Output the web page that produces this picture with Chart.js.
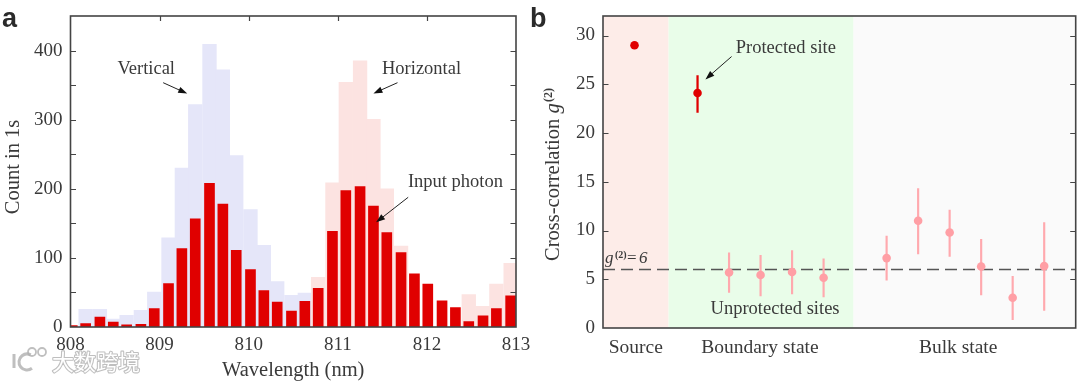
<!DOCTYPE html>
<html><head><meta charset="utf-8">
<style>html,body{margin:0;padding:0;background:#fff;width:1080px;height:383px;overflow:hidden}
canvas{position:absolute;top:0}#ca{left:0}#cb{left:530px}</style>
<script src="https://cdn.jsdelivr.net/npm/chart.js@4"></script></head>
<body><canvas id="ca" width="530" height="383"></canvas><canvas id="cb" width="550" height="383"></canvas>
<script>
const wavelengths=[808.02,808.17,808.33,808.48,808.63,808.79,808.94,809.10,809.25,809.40,809.56,809.71,809.86,810.02,810.17,810.32,810.48,810.63,810.78,810.94,811.09,811.25,811.40,811.55,811.71,811.86,812.01,812.17,812.32,812.47,812.63,812.78,812.94];
const inputPhoton=[2,5,14.5,7,3,4,26.5,63,113.5,156.5,208,178,111,83,52.6,36,23,37,56,138.6,197.5,203,175,136.6,107.7,77,62,37.7,28,8,16,26.5,45];
const vertical=[null,25.6,25.6,11.6,17,24,50.7,129,230,322,409,372,248,170,118,65.7,46,49,null,null,null,null,null,null,null,null,null,null,null,null,null,null,null];
const horizontal=[null,null,null,null,null,null,null,null,null,null,null,null,null,null,null,null,null,null,72,208.7,354,385,300.5,200,117,null,null,null,null,47,30,62,92];
const sourceSite=[0],sourceG2=[29.0];
const protectedSite=[2],protectedG2=[24.1],protectedLow=[22.1],protectedHigh=[25.9];
const unprotectedSites=[3,4,5,6,8,9,10,11,12,13];
const unprotectedG2=[5.7,5.43,5.74,5.16,7.17,11,9.8,6.3,3.1,6.35];
const unprotectedLow=[3.65,3.3,3.5,3.18,4.9,7.6,7.35,3.4,0.85,1.8];
const unprotectedHigh=[7.7,7.45,7.93,7.1,9.43,14.3,12.1,9.1,5.3,10.8];
const threshold=6;
const regionLabels=['Source','Boundary state','Bulk state'];
const regionCenters=[0.04,3.98,10.27];
const regionEdges=[-1,1.08,6.95,14];
const regionColors=['#fdece8','#e9fde9','#fafafa'];

const INK='#3a3a3a',SERIF='"Liberation Serif",serif',FS=19;
Chart.defaults.font.family=SERIF;Chart.defaults.font.size=FS;Chart.defaults.color=INK;
const pts=(xs,ys)=>xs.map((x,i)=>({x,y:ys[i]}));
const noPad=s=>{s.paddingLeft=s.paddingRight=s.paddingTop=s.paddingBottom=0;};

function frame(opts){return {id:'frame',afterDatasetsDraw(ch){
  const {ctx,chartArea:a,scales:{x,y}}=ch;ctx.save();ctx.strokeStyle='#444';ctx.lineWidth=1.2;
  ctx.beginPath();
  y.ticks.forEach(t=>{const p=Math.round(y.getPixelForValue(t.value))+.5;
    if(t.value<=y.min||t.value>=y.max)return;
    if(opts.left){ctx.moveTo(a.left,p);ctx.lineTo(a.left+5.5,p);}
    ctx.moveTo(a.right,p);ctx.lineTo(a.right-5.5,p);});
  if(opts.top)x.ticks.forEach(t=>{if(t.value<=x.min||t.value>=x.max)return;const p=Math.round(x.getPixelForValue(t.value))+.5;ctx.moveTo(p,a.top);ctx.lineTo(p,a.top+5);});
  ctx.stroke();
  ctx.lineWidth=1.6;ctx.strokeStyle='#444';ctx.strokeRect(a.left,a.top,a.right-a.left,a.bottom-a.top);
  ctx.restore();}};}
function arrow(ctx,x0,y0,x1,y1){const an=Math.atan2(y1-y0,x1-x0),L=9,W=3.2;
  ctx.strokeStyle='#222';ctx.fillStyle='#111';ctx.lineWidth=1;
  ctx.beginPath();ctx.moveTo(x0,y0);ctx.lineTo(x1-Math.cos(an)*L*.8,y1-Math.sin(an)*L*.8);ctx.stroke();
  ctx.beginPath();ctx.moveTo(x1,y1);
  ctx.lineTo(x1-L*Math.cos(an)+W*Math.sin(an),y1-L*Math.sin(an)-W*Math.cos(an));
  ctx.lineTo(x1-L*Math.cos(an)-W*Math.sin(an),y1-L*Math.sin(an)+W*Math.cos(an));ctx.closePath();ctx.fill();}
function notes(texts,arrows,extra){return {id:'notes',afterDraw(ch){
  const {ctx,scales:{x,y}}=ch;ctx.save();ctx.textAlign='center';ctx.textBaseline='middle';
  ctx.font='18.5px '+SERIF;ctx.fillStyle=INK;
  texts.forEach(t=>ctx.fillText(t[0],x.getPixelForValue(t[1]),y.getPixelForValue(t[2])));
  arrows.forEach(r=>arrow(ctx,x.getPixelForValue(r[0]),y.getPixelForValue(r[1]),x.getPixelForValue(r[2]),y.getPixelForValue(r[3])));
  if(extra)extra(ctx,ch);ctx.restore();}};}
function panelLetter(c,s,px){c.save();c.font='bold 27px "Liberation Sans",sans-serif';c.fillStyle='#2a2a2a';c.textAlign='left';c.textBaseline='alphabetic';c.fillText(s,px,27);c.restore();}
function watermark(c){c.save();
  c.font='22px "Noto Sans CJK SC"';c.textAlign='left';c.textBaseline='middle';
  c.strokeStyle='rgba(175,175,175,.8)';c.lineWidth=2.2;c.lineJoin='round';
  c.strokeText('大数跨境',52,362);c.fillStyle='#fff';c.fillText('大数跨境',52,362);
  c.lineWidth=3;c.beginPath();c.moveTo(14,354);c.lineTo(14,368);c.stroke();
  c.beginPath();c.arc(27,362,8,0.9,5.2);c.stroke();
  c.lineWidth=1.8;c.beginPath();c.arc(32,352,4,0,6.3);c.stroke();c.beginPath();c.arc(42,352,4,0,6.3);c.stroke();
  c.restore();}

new Chart(document.getElementById('ca'),{type:'bar',
 data:{datasets:[
  {label:'Input photon',data:pts(wavelengths,inputPhoton),backgroundColor:'#e00000',barThickness:10,grouped:false,order:1},
  {label:'Horizontal',data:pts(wavelengths,horizontal),backgroundColor:'#fce3e1',barThickness:13.67,grouped:false,order:2},
  {label:'Vertical',data:pts(wavelengths,vertical),backgroundColor:'#e5e6f9',barThickness:13.67,grouped:false,order:3}]},
 options:{responsive:false,animation:false,devicePixelRatio:1,
  layout:{padding:{top:16,right:14,bottom:0,left:0}},
  plugins:{legend:{display:false},tooltip:{enabled:false}},
  scales:{
   x:{type:'linear',min:808,max:813,offset:false,grid:{display:false,drawTicks:false,offset:false},border:{display:false},
      ticks:{stepSize:1,padding:7,maxRotation:0,autoSkip:false,callback:v=>String(v)},
      title:{display:true,text:'Wavelength (nm)',font:{size:20.5},padding:{top:0,bottom:0}},
      afterFit(s){s.height=56;noPad(s);}},
   y:{min:0,max:450,grid:{display:false,drawTicks:false},border:{display:false},
      ticks:{stepSize:50,padding:8,autoSkip:false,callback:v=>v%100===0?String(v):''},
      afterFit(s){s.width=70.5;noPad(s);}}}},
 plugins:[frame({left:true,top:true}),notes(
  [['Vertical',808.85,373],['Horizontal',811.94,373],['Input photon',812.32,209]],
  [[809.04,353.5,809.31,337.7],[811.67,353.5,811.40,338],[811.79,187.7,811.43,151.5]],
  (c)=>{panelLetter(c,'a',2);watermark(c);
    c.save();c.translate(14,167);c.rotate(-Math.PI/2);c.font='20.5px '+SERIF;c.fillStyle=INK;c.textAlign='center';c.textBaseline='middle';c.fillText('Count in 1s',0,0);c.restore();})]
});

const errBars=(xs,lo,hi)=>xs.map((x,i)=>({x,y:[lo[i],hi[i]]}));
new Chart(document.getElementById('cb'),{type:'bar',
 data:{datasets:[
  {type:'scatter',label:'Source',data:pts(sourceSite,sourceG2),pointRadius:4.3,backgroundColor:'#e00000',borderWidth:0,order:1},
  {type:'scatter',label:'Protected site',data:pts(protectedSite,protectedG2),pointRadius:4.3,backgroundColor:'#e00000',borderWidth:0,order:1},
  {type:'scatter',label:'Unprotected sites',data:pts(unprotectedSites,unprotectedG2),pointRadius:4.3,backgroundColor:'#ff9fa5',borderWidth:0,order:1},
  {type:'bar',label:'Protected error',data:errBars(protectedSite,protectedLow,protectedHigh),backgroundColor:'#e00000',barThickness:1.6,grouped:false,order:2},
  {type:'bar',label:'Unprotected error',data:errBars(unprotectedSites,unprotectedLow,unprotectedHigh),backgroundColor:'#ffa9ae',barThickness:1.5,grouped:false,order:2},
  {type:'line',label:'g2=6',data:[{x:-1,y:threshold},{x:14,y:threshold}],borderColor:'#555',borderWidth:1.4,borderDash:[12,6],pointRadius:0,order:3}]},
 options:{responsive:false,animation:false,devicePixelRatio:1,
  layout:{padding:{top:16,right:2,bottom:0,left:0}},
  plugins:{legend:{display:false},tooltip:{enabled:false}},
  scales:{
   x:{type:'linear',min:-1,max:14,offset:false,grid:{display:false,drawTicks:false,offset:false},border:{display:false},
      afterBuildTicks(s){s.ticks=regionCenters.map(v=>({value:v}));},
      ticks:{padding:8,maxRotation:0,autoSkip:false,font:{size:19.5},callback:(v,i)=>regionLabels[i]},
      afterFit(s){s.height=55;noPad(s);}},
   y:{min:0,max:32,grid:{display:false,drawTicks:false},border:{display:false},
      afterBuildTicks(s){s.ticks=[0,5,10,15,20,25,30].map(v=>({value:v}));},
      ticks:{padding:8,autoSkip:false,callback:v=>String(v)},
      afterFit(s){s.width=73;noPad(s);}}}},
 plugins:[{id:'regions',beforeDatasetsDraw(ch){const {ctx,chartArea:a,scales:{x}}=ch;
    regionColors.forEach((col,i)=>{const l=x.getPixelForValue(regionEdges[i]),r=x.getPixelForValue(regionEdges[i+1]);ctx.fillStyle=col;ctx.fillRect(l,a.top,r-l,a.bottom-a.top);});}},
  frame({left:true,top:false}),notes(
  [['Protected site',4.8,28.75],['Unprotected sites',4.46,1.95]],
  [[3.08,27.84,2.25,25.5]],
  (c,ch)=>{panelLetter(c,'b',0);
    const {y}=ch.scales;
    c.textAlign='left';c.textBaseline='alphabetic';let px=75,py=y.getPixelForValue(threshold)-7;
    c.font='italic 17px '+SERIF;c.fillStyle=INK;c.fillText('g',px,py);px+=10;
    c.font='bold 10px '+SERIF;c.fillText('(2)',px,py-5);px+=12;
    c.font='17px '+SERIF;c.fillText('=',px,py);px+=12;
    c.font='italic 17px '+SERIF;c.fillText(String(threshold),px,py);
    c.save();c.translate(29,261);c.rotate(-Math.PI/2);
    c.font='20.5px '+SERIF;c.fillText('Cross-correlation ',0,0);let w=c.measureText('Cross-correlation ').width;
    c.font='italic 20.5px '+SERIF;c.fillText('g',w,0);w+=11.5;
    c.font='bold 12px '+SERIF;c.fillText('(2)',w,-7);
    c.restore();})]
});
</script></body></html>
